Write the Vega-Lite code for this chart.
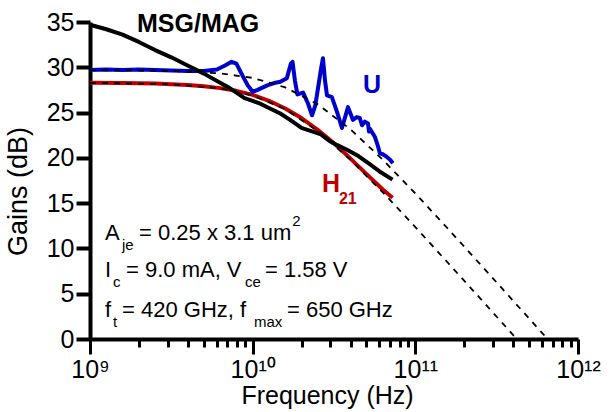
{
  "$schema": "https://vega.github.io/schema/vega-lite/v6.json",
  "width": 488,
  "height": 317,
  "autosize": "none",
  "padding": {"left": 90, "top": 22, "right": 36, "bottom": 73},
  "config": {"view": {"stroke": null}, "font": "Liberation Sans"},
  "datasets": {
    "curves": [
      {"f": 1, "g": 34.7, "s": "MSG"}, {"f": 1.259, "g": 34.2, "s": "MSG"}, {"f": 1.585, "g": 33.6, "s": "MSG"},
      {"f": 1.995, "g": 32.8, "s": "MSG"}, {"f": 2.512, "g": 31.9, "s": "MSG"}, {"f": 3.162, "g": 31.1, "s": "MSG"},
      {"f": 3.981, "g": 30.2, "s": "MSG"}, {"f": 5.012, "g": 29.3, "s": "MSG"}, {"f": 6.31, "g": 28.3, "s": "MSG"},
      {"f": 7.079, "g": 27.8, "s": "MSG"}, {"f": 7.943, "g": 27.2, "s": "MSG"}, {"f": 8.913, "g": 26.6, "s": "MSG"},
      {"f": 10, "g": 26.3, "s": "MSG"}, {"f": 11.22, "g": 25.95, "s": "MSG"}, {"f": 12.59, "g": 25.5, "s": "MSG"},
      {"f": 14.79, "g": 24.9, "s": "MSG"}, {"f": 16.98, "g": 24.2, "s": "MSG"}, {"f": 18.62, "g": 23.7, "s": "MSG"},
      {"f": 19.95, "g": 23.3, "s": "MSG"}, {"f": 23.44, "g": 22.9, "s": "MSG"}, {"f": 26.3, "g": 22.6, "s": "MSG"},
      {"f": 29.51, "g": 21.9, "s": "MSG"}, {"f": 33.11, "g": 21.4, "s": "MSG"}, {"f": 38.02, "g": 20.9, "s": "MSG"},
      {"f": 44.67, "g": 20.2, "s": "MSG"}, {"f": 52.48, "g": 19.3, "s": "MSG"}, {"f": 60.26, "g": 18.5, "s": "MSG"},
      {"f": 72.44, "g": 17.6, "s": "MSG"},

      {"f": 1, "g": 28.3, "s": "H21"}, {"f": 1.585, "g": 28.27, "s": "H21"}, {"f": 2.512, "g": 28.2, "s": "H21"},
      {"f": 3.981, "g": 28.05, "s": "H21"}, {"f": 5.012, "g": 27.9, "s": "H21"}, {"f": 6.31, "g": 27.7, "s": "H21"},
      {"f": 7.943, "g": 27.4, "s": "H21"}, {"f": 10, "g": 26.95, "s": "H21"}, {"f": 12.59, "g": 26.3, "s": "H21"},
      {"f": 15.85, "g": 25.45, "s": "H21"}, {"f": 19.95, "g": 24.4, "s": "H21"}, {"f": 25.12, "g": 23.1, "s": "H21"},
      {"f": 31.62, "g": 21.6, "s": "H21"}, {"f": 39.81, "g": 19.95, "s": "H21"}, {"f": 50.12, "g": 18.2, "s": "H21"},
      {"f": 63.1, "g": 16.5, "s": "H21"}, {"f": 72.44, "g": 15.6, "s": "H21"},

      {"f": 1, "g": 29.7, "s": "U"}, {"f": 1.259, "g": 29.75, "s": "U"}, {"f": 1.585, "g": 29.7, "s": "U"},
      {"f": 1.995, "g": 29.75, "s": "U"}, {"f": 2.512, "g": 29.7, "s": "U"}, {"f": 3.162, "g": 29.65, "s": "U"},
      {"f": 3.981, "g": 29.6, "s": "U"}, {"f": 5.012, "g": 29.6, "s": "U"}, {"f": 6.026, "g": 29.75, "s": "U"},
      {"f": 6.761, "g": 30.2, "s": "U"}, {"f": 7.413, "g": 30.6, "s": "U"}, {"f": 7.943, "g": 30.4, "s": "U"},
      {"f": 8.71, "g": 29.0, "s": "U"}, {"f": 9.333, "g": 28.0, "s": "U"}, {"f": 10, "g": 27.3, "s": "U"},
      {"f": 10.72, "g": 27.5, "s": "U"}, {"f": 12.3, "g": 28.0, "s": "U"}, {"f": 13.8, "g": 28.3, "s": "U"},
      {"f": 14.79, "g": 28.4, "s": "U"}, {"f": 16.22, "g": 28.8, "s": "U"}, {"f": 17.18, "g": 30.4, "s": "U"},
      {"f": 17.58, "g": 30.6, "s": "U"}, {"f": 18.2, "g": 28.5, "s": "U"}, {"f": 18.84, "g": 27.0, "s": "U"},
      {"f": 20.42, "g": 27.2, "s": "U"}, {"f": 21.88, "g": 26.0, "s": "U"}, {"f": 23.17, "g": 24.7, "s": "U"},
      {"f": 24.27, "g": 25.8, "s": "U"}, {"f": 25.12, "g": 27.5, "s": "U"}, {"f": 26.3, "g": 29.8, "s": "U"},
      {"f": 27.04, "g": 31.0, "s": "U"}, {"f": 27.86, "g": 28.5, "s": "U"}, {"f": 28.64, "g": 26.9, "s": "U"},
      {"f": 30.69, "g": 26.7, "s": "U"}, {"f": 33.11, "g": 25.0, "s": "U"}, {"f": 35.4, "g": 23.3, "s": "U"},
      {"f": 38.55, "g": 25.6, "s": "U"}, {"f": 41.3, "g": 24.2, "s": "U"}, {"f": 43.65, "g": 24.5, "s": "U"},
      {"f": 45.6, "g": 24.4, "s": "U"}, {"f": 46.99, "g": 23.6, "s": "U"}, {"f": 48.98, "g": 24.0, "s": "U"},
      {"f": 51.17, "g": 23.8, "s": "U"}, {"f": 51.88, "g": 22.9, "s": "U"}, {"f": 52.6, "g": 23.2, "s": "U"},
      {"f": 56.49, "g": 22.3, "s": "U"}, {"f": 58.88, "g": 21.3, "s": "U"}, {"f": 60.53, "g": 20.5, "s": "U"},
      {"f": 63.1, "g": 20.4, "s": "U"}, {"f": 66.83, "g": 20.1, "s": "U"}, {"f": 69.98, "g": 19.8, "s": "U"},
      {"f": 72.78, "g": 19.4, "s": "U"}
    ],
    "fits": [
      {"f": 1, "g": 29.69, "s": "Ufit"}, {"f": 3.162, "g": 29.61, "s": "Ufit"}, {"f": 6.31, "g": 29.33, "s": "Ufit"},
      {"f": 10, "g": 28.83, "s": "Ufit"}, {"f": 15.85, "g": 27.78, "s": "Ufit"}, {"f": 25.12, "g": 25.91, "s": "Ufit"},
      {"f": 39.81, "g": 23.17, "s": "Ufit"}, {"f": 63.1, "g": 19.79, "s": "Ufit"}, {"f": 100, "g": 16.07, "s": "Ufit"},
      {"f": 158.5, "g": 12.18, "s": "Ufit"}, {"f": 251.2, "g": 8.23, "s": "Ufit"}, {"f": 398.1, "g": 4.25, "s": "Ufit"},
      {"f": 650, "g": 0, "s": "Ufit"},
      {"f": 1, "g": 28.28, "s": "Hfit"}, {"f": 3.162, "g": 28.14, "s": "Hfit"}, {"f": 6.31, "g": 27.68, "s": "Hfit"},
      {"f": 10, "g": 26.89, "s": "Hfit"}, {"f": 15.85, "g": 25.38, "s": "Hfit"}, {"f": 25.12, "g": 22.97, "s": "Hfit"},
      {"f": 39.81, "g": 19.81, "s": "Hfit"}, {"f": 63.1, "g": 16.19, "s": "Hfit"}, {"f": 100, "g": 12.36, "s": "Hfit"},
      {"f": 158.5, "g": 8.42, "s": "Hfit"}, {"f": 251.2, "g": 4.46, "s": "Hfit"}, {"f": 420, "g": 0, "s": "Hfit"}
    ],
    "notes": [
      {"f": 1.236, "g": 10.93, "t": "A"},
      {"f": 2.001, "g": 10.93, "t": "= 0.25 x 3.1 um"},
      {"f": 1.236, "g": 6.85, "t": "I"},
      {"f": 1.664, "g": 6.85, "t": "= 9.0 mA, V"},
      {"f": 11.9, "g": 6.85, "t": "= 1.58 V"},
      {"f": 1.236, "g": 2.43, "t": "f"},
      {"f": 1.573, "g": 2.43, "t": "= 420 GHz,  f"},
      {"f": 16.25, "g": 2.43, "t": "= 650 GHz"}
    ],
    "notes_sub": [
      {"f": 1.573, "g": 9.83, "t": "je"},
      {"f": 17.5, "g": 12.5, "t": "2"},
      {"f": 1.385, "g": 5.74, "t": "c"},
      {"f": 8.968, "g": 5.74, "t": "ce"},
      {"f": 1.385, "g": 1.32, "t": "t"},
      {"f": 10.19, "g": 1.32, "t": "max"}
    ],
    "series_labels": [
      {"f": 1.945, "g": 33.9, "t": "MSG/MAG", "s": "MSG"},
      {"f": 47.6, "g": 27.16, "t": "U", "s": "U"},
      {"f": 26.7, "g": 16.23, "t": "H", "s": "H21"}
    ],
    "series_sub": [
      {"f": 33.9, "g": 14.9, "t": "21", "s": "H21"}
    ]
  },
  "encoding": {
    "x": {
      "field": "f", "type": "quantitative",
      "scale": {"type": "log", "domain": [1, 1000]},
      "axis": {
        "values": [1,2,3,4,5,6,7,8,9,10,20,30,40,50,60,70,80,90,100,200,300,400,500,600,700,800,900,1000],
        "labelExpr": "datum.value == 1 ? '10⁹' : datum.value == 10 ? '10¹⁰' : datum.value == 100 ? '10¹¹' : datum.value == 1000 ? '10¹²' : ''",
        "tickSize": {"condition": {"test": "datum.value == 1 || datum.value == 10 || datum.value == 100 || datum.value == 1000", "value": 15}, "value": 8},
        "tickWidth": 3, "tickColor": "black",
        "domainWidth": 4, "domainColor": "black",
        "labelFontSize": 25, "labelColor": "black", "labelPadding": 3,
        "labelFlush": false, "labelOverlap": false, "grid": false,
        "title": "Frequency (Hz)", "titleFontSize": 25, "titleFontWeight": "normal", "titleColor": "black",
        "titleX": 237, "titleY": 64, "titleBaseline": "alphabetic"
      }
    },
    "y": {
      "field": "g", "type": "quantitative",
      "scale": {"domain": [0, 35]},
      "axis": {
        "values": [0, 5, 10, 15, 20, 25, 30, 35],
        "tickSize": 14, "tickWidth": 4, "tickColor": "black",
        "domainWidth": 4, "domainColor": "black",
        "labelFontSize": 25, "labelColor": "black", "labelPadding": 2,
        "grid": false,
        "title": "Gains (dB)", "titleFontSize": 27, "titleFontWeight": "normal", "titleColor": "black",
        "titleX": -64, "titleY": 169, "titleBaseline": "alphabetic"
      }
    }
  },
  "layer": [
    {
      "data": {"name": "curves"},
      "transform": [{"filter": "datum.s == 'H21'"}],
      "mark": {"type": "line", "strokeWidth": 4, "strokeJoin": "round"},
      "encoding": {"color": {"field": "s", "type": "nominal", "scale": {"domain": ["MSG", "U", "H21"], "range": ["#000000", "#0000cc", "#c00000"]}, "legend": null}}
    },
    {
      "data": {"name": "curves"},
      "transform": [{"filter": "datum.s == 'U'"}],
      "mark": {"type": "line", "strokeWidth": 4, "strokeJoin": "round"},
      "encoding": {"color": {"field": "s", "type": "nominal", "legend": null}}
    },
    {
      "data": {"name": "curves"},
      "transform": [{"filter": "datum.s == 'MSG'"}],
      "mark": {"type": "line", "strokeWidth": 4, "strokeJoin": "round"},
      "encoding": {"color": {"field": "s", "type": "nominal", "legend": null}}
    },
    {
      "data": {"name": "fits"},
      "mark": {"type": "line", "color": "black", "strokeWidth": 1.8, "strokeDash": [6, 6]},
      "encoding": {"detail": {"field": "s", "type": "nominal"}}
    },
    {
      "data": {"name": "notes"},
      "mark": {"type": "text", "align": "left", "baseline": "alphabetic", "fontSize": 22, "color": "black"},
      "encoding": {"text": {"field": "t"}}
    },
    {
      "data": {"name": "notes_sub"},
      "mark": {"type": "text", "align": "left", "baseline": "alphabetic", "fontSize": 15, "color": "black"},
      "encoding": {"text": {"field": "t"}}
    },
    {
      "data": {"name": "series_labels"},
      "mark": {"type": "text", "align": "left", "baseline": "alphabetic", "fontSize": 25, "fontWeight": "bold"},
      "encoding": {"text": {"field": "t"}, "color": {"field": "s", "type": "nominal", "legend": null}}
    },
    {
      "data": {"name": "series_sub"},
      "mark": {"type": "text", "align": "left", "baseline": "alphabetic", "fontSize": 16, "fontWeight": "bold"},
      "encoding": {"text": {"field": "t"}, "color": {"field": "s", "type": "nominal", "legend": null}}
    }
  ]
}
